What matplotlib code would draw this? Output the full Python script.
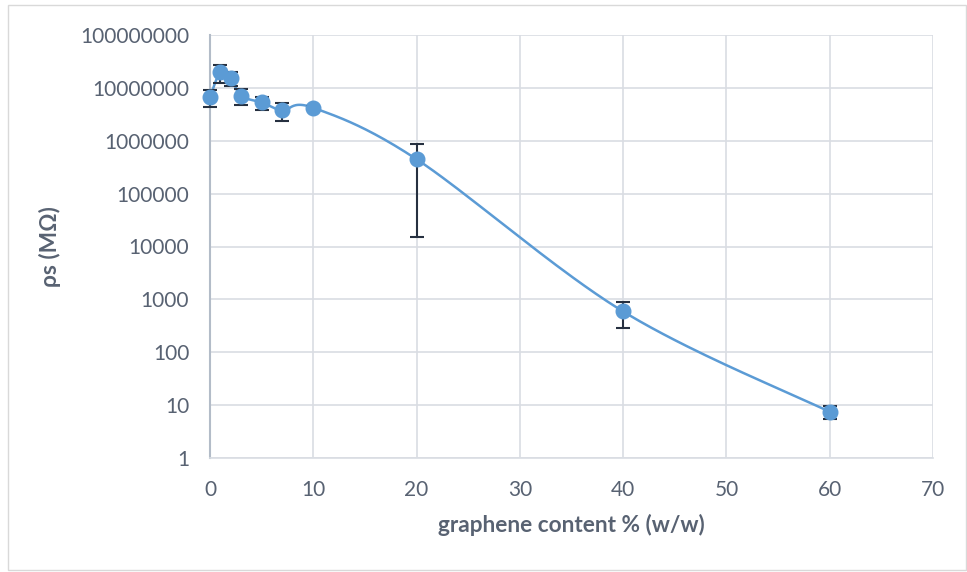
import numpy as np
import matplotlib
matplotlib.use("Agg")
import matplotlib.pyplot as plt
from matplotlib.patches import Rectangle
from matplotlib.ticker import FixedLocator, FuncFormatter

# ---- data ----
content = [0, 1, 2, 3, 5, 7, 10, 20, 40, 60]
rho_s = [6.7e6, 1.97e7, 1.56e7, 7.1e6, 5.3e6, 3.8e6, 4.2e6, 4.47e5, 590, 7.5]
rho_err = [2.3e6, 7.5e6, 4.7e6, 2.4e6, 1.5e6, 1.4e6, 4.0e5, 4.32e5, 300, 2.0]
x_ticks = [0, 10, 20, 30, 40, 50, 60, 70]
y_ticks = [1, 10, 100, 1000, 10000, 100000, 1000000, 10000000, 100000000]
x_title = "graphene content % (w/w)"
y_title = "ρs (MΩ)"

TEXT = "#586272"
BLUE = "#5b9bd5"
GRID = "#d9dde3"

plt.rcParams['font.family'] = ['Lato', 'DejaVu Sans']

fig = plt.figure(figsize=(9.67, 5.72), dpi=100)
fig.patches.append(Rectangle((8 / 967, 2 / 572), 958 / 967, 565 / 572,
                             transform=fig.transFigure, fill=False,
                             edgecolor="#d9d9d9", linewidth=1.0))
ax = fig.add_axes([210 / 967, 1 - 458 / 572, 723 / 967, 423 / 572])

# smoothed line (Excel style Catmull-Rom in display space: x, log10 y)
px = np.array(content, dtype=float)
py = np.log10(np.array(rho_s, dtype=float))
P = np.column_stack([px, py])
Pext = np.vstack([P[0], P, P[-1]])
curve = []
t = np.linspace(0, 1, 40)
for i in range(1, len(Pext) - 2):
    p0, p1, p2, p3 = Pext[i - 1], Pext[i], Pext[i + 1], Pext[i + 2]
    c1 = p1 + (p2 - p0) / 6.0
    c2 = p2 - (p3 - p1) / 6.0
    seg = ((1 - t)[:, None] ** 3 * p1 + 3 * ((1 - t) ** 2 * t)[:, None] * c1
           + 3 * ((1 - t) * t ** 2)[:, None] * c2 + (t ** 3)[:, None] * p2)
    curve.append(seg)
curve = np.vstack(curve)
ax.plot(curve[:, 0], 10 ** curve[:, 1], color=BLUE, linewidth=1.8, zorder=3)

eb = ax.errorbar(content, rho_s, yerr=rho_err, fmt="none", ecolor="#263040",
                 elinewidth=1.5, capsize=4.8, capthick=1.5, zorder=4)
for art in eb.lines[1]:
    art.set_clip_on(False)
for art in eb.lines[2]:
    art.set_clip_on(False)
ax.plot(content, rho_s, linestyle="none", marker="o", markersize=10.5,
        color=BLUE, markeredgecolor=BLUE, zorder=5, clip_on=False)

ax.set_yscale("log")
ax.set_xlim(0, 70)
ax.set_ylim(1, 1e8)
ax.xaxis.set_major_locator(FixedLocator(x_ticks))
ax.yaxis.set_major_locator(FixedLocator(y_ticks))
ax.yaxis.set_minor_locator(FixedLocator([]))
ax.yaxis.set_major_formatter(FuncFormatter(lambda v, p: f"{int(round(v))}"))
ax.xaxis.set_major_formatter(FuncFormatter(lambda v, p: f"{int(round(v))}"))

ax.grid(True, which="major", color=GRID, linewidth=1.2)
ax.set_axisbelow(True)
for s in ["top", "right"]:
    ax.spines[s].set_visible(False)
ax.spines["left"].set_color("#b3bcc8")
ax.spines["left"].set_linewidth(1.5)
ax.spines["bottom"].set_color(GRID)
ax.spines["bottom"].set_linewidth(1.2)

ax.tick_params(axis="both", length=0, labelsize=15, labelcolor=TEXT)
ax.tick_params(axis="y", pad=15)
ax.tick_params(axis="x", pad=16)

ax.set_xlabel(x_title, fontsize=16.3, fontweight="bold", color=TEXT, labelpad=10)
ax.set_ylabel(y_title, fontsize=16.3, fontweight="bold", color=TEXT, labelpad=14)

fig.savefig("out.png", dpi=100)
